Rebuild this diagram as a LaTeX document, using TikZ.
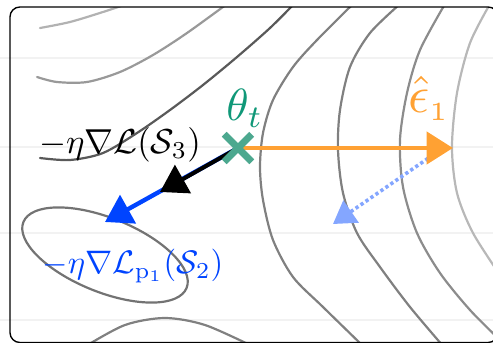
\documentclass[tikz,border=0pt]{standalone}
\usepackage{fix-cm}
\usepackage{amsmath,amssymb}
\usetikzlibrary{arrows.meta,shapes.misc}
\definecolor{thetagreen}{RGB}{16,152,120}
\definecolor{crossgreen}{RGB}{76,168,143}
\definecolor{epsorange}{RGB}{255,161,51}
\definecolor{gradblue}{RGB}{0,68,255}
\definecolor{shiftblue}{RGB}{132,166,255}
\begin{document}
\begin{tikzpicture}[x=0.3636pt,y=-0.3636pt,
    every node/.style={inner sep=0pt,outer sep=0pt},
    contour/.style={line width=0.8pt,line cap=round},
    bigtip/.style={-{Triangle[length=9.6pt,width=11.6pt]}},
    smalltip/.style={-{Triangle[length=8pt,width=9.6pt]}},
    thetalabstyle/.style={font=\fontsize{10}{12}\selectfont,scale=1.64,transform shape},
    epslabstyle/.style={font=\fontsize{10}{12}\selectfont,scale=1.9,transform shape},
    smalllab/.style={font=\fontsize{10}{12}\selectfont,scale=1.26,transform shape}]
  \useasboundingbox (0,0) rectangle (493,343);
  \clip (0,0) rectangle (493,343);
  % faint stripes of the background
  \foreach \yy in {58,147,233,320}
    \draw[black!5,line width=1pt] (0,\yy) -- (493,\yy);
  % level sets
  \begin{scope}
    \clip[rounded corners=3.6pt] (10,7) rectangle (498,342.5);
    \draw[contour,black!30] plot[smooth] coordinates{(40,28)(70,22)(103,12)(127,4)};
    \draw[contour,black!40] plot[smooth]
      coordinates{(37,77)(57,82)(87,82)(120,72)(153,55)(187,33)(227,4)};
    \draw[contour,black!65] plot[smooth]
      coordinates{(40,158)(70,160)(103,153)(137,133)(170,110)(203,85)(237,57)(270,28)(294,4)};
    \draw[contour,black!50] plot[smooth]
      coordinates{(353,4)(317,40)(293,67)(273,100)(263,133)(260,167)(263,200)(273,240)(293,277)(323,307)(363,346)};
    \draw[contour,black!50] plot[smooth]
      coordinates{(400,4)(370,33)(350,67)(340,110)(338,150)(343,193)(357,233)(380,267)(410,307)(443,346)};
    \draw[contour,black!45] plot[smooth]
      coordinates{(445,4)(420,50)(407,93)(400,140)(403,187)(417,233)(440,273)(470,310)(500,340)};
    \draw[contour,black!28] plot[smooth]
      coordinates{(490,4)(470,43)(457,93)(452,147)(457,193)(473,233)(500,275)};
    \draw[contour,black!50] plot[smooth] coordinates{(86,346)(125,325)(165,318)(205,325)(252,346)};
    \draw[contour,black!55,rotate around={-22:(105,255)}]
      (105,255) ellipse[x radius=88,y radius=37];
  \end{scope}
  \draw[line width=0.5pt,rounded corners=3.6pt] (10,7) rectangle (498,342.5);
  % points
  \coordinate (theta) at (238,148);
  \coordinate (epstip) at (453,148);
  \coordinate (gradtip) at (160,192);
  \coordinate (ptip) at (105,222);
  \coordinate (shiftstart) at (443,148);
  \coordinate (shifttip) at (333,224);
  % steps
  \draw[bigtip,gradblue,line width=1.6pt] (theta) -- (ptip);
  \draw[bigtip,black,line width=1.45pt] (theta) -- (gradtip);
  \draw[smalltip,shiftblue,line width=1.3pt,dash pattern=on 1.2pt off 1pt]
    (shiftstart) -- (shifttip);
  \draw[bigtip,epsorange,line width=1.8pt] (theta) -- (epstip);
  \node[cross out,draw=crossgreen,line width=2.5pt,minimum size=10pt] (thetamark) at (theta) {};
  % labels
  \node[thetalabstyle,text=thetagreen] (thetalab) at (245,108) {$\theta_t$};
  \node[epslabstyle,text=epsorange] (epslab) at (429,98)
    {$\hat{\epsilon}_{\scriptscriptstyle 1}$};
  \node[smalllab] (gradlab) at (120,145) {$-\eta\nabla\mathcal{L}(\mathcal{S}_3)$};
  \node[smalllab,scale=0.94,text=gradblue] (plab) at (133,266)
    {$-\eta\nabla\mathcal{L}_{\mathrm{p}_1}(\mathcal{S}_2)$};
\end{tikzpicture}
\end{document}
